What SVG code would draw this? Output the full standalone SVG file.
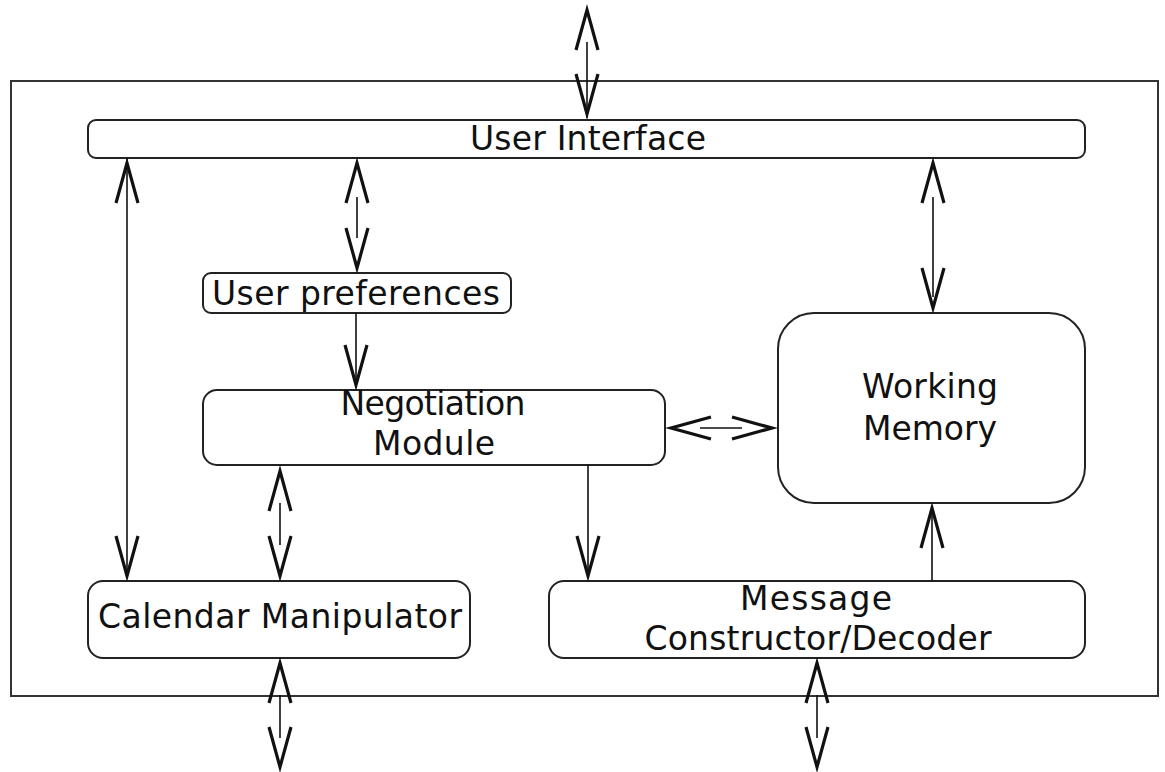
<svg xmlns="http://www.w3.org/2000/svg" xmlns:xlink="http://www.w3.org/1999/xlink" width="1165" height="772" viewBox="0 0 1165 772">
  <style>
    .box { fill: #ffffff; stroke: #222222; stroke-width: 2; }
    .frame { fill: none; stroke: #333333; stroke-width: 2; }
    .lbl { font-family: "DejaVu Sans", "Liberation Sans", sans-serif; font-size: 33px; fill: #111111; text-anchor: middle; }
    .wire { stroke: #111111; stroke-width: 1.6; fill: none; }
    .head { stroke: #111111; stroke-width: 3.2; fill: none; stroke-linejoin: miter; stroke-miterlimit: 10; stroke-linecap: butt; }
  </style>
  <defs>
    <!-- open V arrowhead pointing down, tip at origin (pulled back to allow for miter) -->
    <path id="vhead" d="M-11,-45 L0,-5 L11,-45"/>
  </defs>

  <rect width="1165" height="772" fill="#ffffff"/>

  <!-- enclosing system boundary -->
  <rect class="frame" x="11" y="81" width="1147" height="615"/>

  <g id="user-interface">
    <rect class="box" x="88" y="120" width="997" height="38" rx="8"/>
    <text class="lbl" x="588" y="150" textLength="236" lengthAdjust="spacing">User Interface</text>
  </g>

  <g id="user-preferences">
    <rect class="box" x="203" y="273" width="308" height="40" rx="8"/>
    <text class="lbl" x="356" y="305" textLength="288" lengthAdjust="spacing">User preferences</text>
  </g>

  <g id="negotiation-module">
    <rect class="box" x="203" y="390" width="462" height="75" rx="14"/>
    <text class="lbl" x="433" y="415" textLength="185" lengthAdjust="spacing">Negotiation</text>
    <text class="lbl" x="434" y="455" textLength="122" lengthAdjust="spacing">Module</text>
  </g>

  <g id="working-memory">
    <rect class="box" x="778" y="313" width="307" height="190" rx="36"/>
    <text class="lbl" x="930" y="398" textLength="136" lengthAdjust="spacing">Working</text>
    <text class="lbl" x="930" y="440" textLength="134" lengthAdjust="spacing">Memory</text>
  </g>

  <g id="calendar-manipulator">
    <rect class="box" x="88" y="581" width="382" height="77" rx="15"/>
    <text class="lbl" x="280" y="628" textLength="364" lengthAdjust="spacing">Calendar Manipulator</text>
  </g>

  <g id="message-constructor-decoder">
    <rect class="box" x="549" y="581" width="536" height="77" rx="15"/>
    <text class="lbl" x="816" y="610" textLength="152" lengthAdjust="spacing">Message</text>
    <text class="lbl" x="818" y="650" textLength="347" lengthAdjust="spacing">Constructor/Decoder</text>
  </g>

  <g id="connectors">
    <!-- external link into the user interface -->
    <line class="wire" x1="587" y1="42" x2="587" y2="118"/>
    <use href="#vhead" class="head" transform="translate(587,5) rotate(180)"/>
    <use href="#vhead" class="head" transform="translate(587,119)"/>

    <!-- user interface <-> user preferences -->
    <line class="wire" x1="357" y1="197" x2="357" y2="238"/>
    <use href="#vhead" class="head" transform="translate(357,158) rotate(180)"/>
    <use href="#vhead" class="head" transform="translate(357,273)"/>

    <!-- user preferences -> negotiation module -->
    <line class="wire" x1="356" y1="313" x2="356" y2="388"/>
    <use href="#vhead" class="head" transform="translate(356,390)"/>

    <!-- user interface <-> calendar manipulator -->
    <line class="wire" x1="127" y1="158" x2="127" y2="578"/>
    <use href="#vhead" class="head" transform="translate(127,158) rotate(180)"/>
    <use href="#vhead" class="head" transform="translate(127,581)"/>

    <!-- user interface <-> working memory -->
    <line class="wire" x1="933" y1="197" x2="933" y2="297"/>
    <use href="#vhead" class="head" transform="translate(933,158) rotate(180)"/>
    <use href="#vhead" class="head" transform="translate(933,313)"/>

    <!-- negotiation module <-> working memory -->
    <line class="wire" x1="700" y1="428" x2="742" y2="428"/>
    <use href="#vhead" class="head" transform="translate(666,428) rotate(90)"/>
    <use href="#vhead" class="head" transform="translate(777,428) rotate(-90)"/>

    <!-- negotiation module <-> calendar manipulator -->
    <line class="wire" x1="280" y1="503" x2="280" y2="545"/>
    <use href="#vhead" class="head" transform="translate(280,466) rotate(180)"/>
    <use href="#vhead" class="head" transform="translate(280,581)"/>

    <!-- calendar manipulator external link -->
    <line class="wire" x1="280" y1="695" x2="280" y2="738"/>
    <use href="#vhead" class="head" transform="translate(280,658) rotate(180)"/>
    <use href="#vhead" class="head" transform="translate(280,772)"/>

    <!-- negotiation module -> message constructor/decoder -->
    <line class="wire" x1="588" y1="465" x2="588" y2="578"/>
    <use href="#vhead" class="head" transform="translate(588,581)"/>

    <!-- message constructor/decoder -> working memory -->
    <line class="wire" x1="932" y1="581" x2="932" y2="506"/>
    <use href="#vhead" class="head" transform="translate(932,503) rotate(180)"/>

    <!-- message constructor/decoder external link -->
    <line class="wire" x1="817" y1="695" x2="817" y2="738"/>
    <use href="#vhead" class="head" transform="translate(817,658) rotate(180)"/>
    <use href="#vhead" class="head" transform="translate(817,772)"/>
  </g>
</svg>
